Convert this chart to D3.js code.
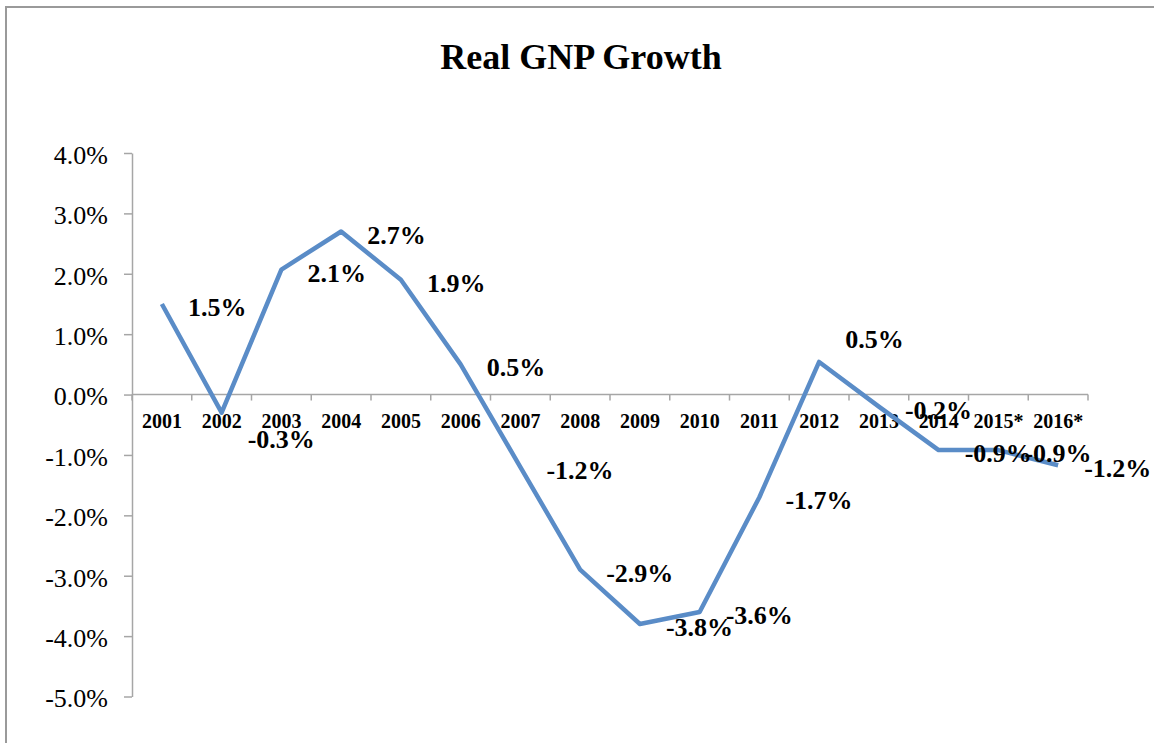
<!DOCTYPE html>
<html>
<head>
<meta charset="utf-8">
<script src="https://cdn.jsdelivr.net/npm/d3@7"></script>
<style>
  body { margin: 0; background: #fff; }
  svg, svg text { font-family: "Liberation Serif", "Times New Roman", serif !important; }
</style>
</head>
<body>
<svg id="chart" width="1154" height="743"></svg>
<script>
// Data
const years = ['2001', '2002', '2003', '2004', '2005', '2006', '2007', '2008',
  '2009', '2010', '2011', '2012', '2013', '2014', '2015*', '2016*'];
const growth = [1.5, -0.3, 2.07, 2.7, 1.9, 0.5, -1.2, -2.9, -3.8, -3.6, -1.7, 0.54, -0.2, -0.92, -0.92, -1.17];
const yTicks = [-5, -4, -3, -2, -1, 0, 1, 2, 3, 4];
const title = 'Real GNP Growth';

const svg = d3.select('#chart');
const axisColor = '#a6a6a6';
const lineColor = '#5a8cc7';

// chart frame (runs off the right/bottom edges like the screenshot)
svg.append('rect')
  .attr('x', 6).attr('y', 7)
  .attr('width', 1300).attr('height', 900)
  .attr('fill', 'none')
  .attr('stroke', '#9a9a9a')
  .attr('stroke-width', 2);

// scales
const x = d3.scaleBand().domain(years).range([132, 1088]).padding(0);
const y = d3.scaleLinear().domain([-5, 4]).range([696.5, 153]);
const cx = d => x(d) + x.bandwidth() / 2;

// title
svg.append('text')
  .attr('x', 581).attr('y', 69)
  .attr('text-anchor', 'middle')
  .attr('font-size', 36)
  .attr('font-weight', 'bold')
  .text(title);

// y axis
const yAxis = svg.append('g')
  .attr('transform', 'translate(132,0)')
  .call(d3.axisLeft(y)
    .tickValues(yTicks)
    .tickFormat(d => d.toFixed(1) + '%')
    .tickSize(8)
    .tickSizeOuter(0)
    .tickPadding(16));
yAxis.attr('font-family', null);
yAxis.selectAll('path, line').attr('stroke', axisColor).attr('stroke-width', 1.5);
yAxis.selectAll('text')
  .attr('font-size', 26)
  .attr('fill', '#000')
  .attr('dy', '0.4em');

// x axis along zero line
const zeroY = y(0);
const xAxis = svg.append('g');
xAxis.append('line')
  .attr('x1', x.range()[0]).attr('x2', x.range()[1])
  .attr('y1', zeroY).attr('y2', zeroY)
  .attr('stroke', axisColor).attr('stroke-width', 1.5);

// tick marks on category boundaries
const bounds = years.map(d => x(d)).concat([x(years[years.length - 1]) + x.bandwidth()]);
xAxis.selectAll('line.tick')
  .data(bounds)
  .enter()
  .append('line')
  .attr('class', 'tick')
  .attr('x1', d => d).attr('x2', d => d)
  .attr('y1', zeroY).attr('y2', zeroY + 6)
  .attr('stroke', axisColor).attr('stroke-width', 1.5);

xAxis.selectAll('text')
  .data(years)
  .enter()
  .append('text')
  .attr('x', d => cx(d))
  .attr('y', zeroY + 33)
  .attr('text-anchor', 'middle')
  .attr('font-size', 20)
  .attr('font-weight', 'bold')
  .text(d => d);

// the line
const pts = years.map((d, i) => ({ year: d, value: growth[i] }));
svg.append('path')
  .datum(pts)
  .attr('fill', 'none')
  .attr('stroke', lineColor)
  .attr('stroke-width', 4.5)
  .attr('stroke-linejoin', 'round')
  .attr('d', d3.line().x(d => cx(d.year)).y(d => y(d.value)));

// data labels, to the right of each point; two were dragged in the original
const labelNudge = { '2002': 23, '2012': -26 };
svg.append('g')
  .selectAll('text')
  .data(pts)
  .enter()
  .append('text')
  .attr('x', d => cx(d.year) + 26)
  .attr('y', d => y(d.value) + 12 + (labelNudge[d.year] || 0))
  .attr('font-size', 26)
  .attr('font-weight', 'bold')
  .text(d => d.value.toFixed(1) + '%');
</script>
</body>
</html>
